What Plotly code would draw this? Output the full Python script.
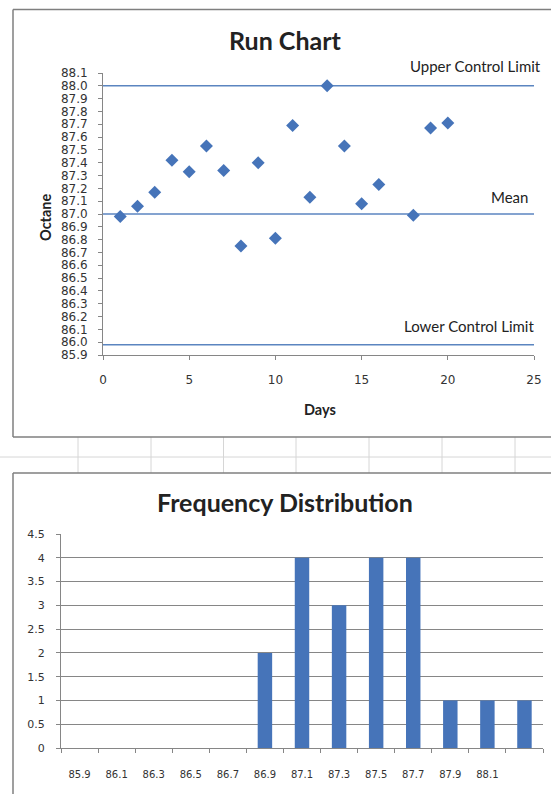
import plotly.graph_objects as go

# ---------------- data ----------------
days = [1, 2, 3, 4, 5, 6, 7, 8, 9, 10, 11, 12, 13, 14, 15, 16, 18, 19, 20]
octane = [86.98, 87.06, 87.17, 87.42, 87.33, 87.53, 87.34, 86.75, 87.40, 86.81,
          87.69, 87.13, 88.00, 87.53, 87.08, 87.23, 86.99, 87.67, 87.71]
ucl = 88.00
mean = 87.00
lcl = 85.98
limit_span = [0, 25]

bins = ["85.9", "86.1", "86.3", "86.5", "86.7", "86.9", "87.1", "87.3",
        "87.5", "87.7", "87.9", "88.1", "More"]
freq = [0, 0, 0, 0, 0, 2, 4, 3, 4, 4, 1, 1, 1]
shown_bin_labels = bins[:12]

# ---------------- page geometry ----------------
W, H = 551, 794
def px(x):
    return x / W
def py(y):
    return 1 - y / H

BLUE = "#4674B9"
LINE_BLUE = "#5B85C0"
AXIS = "#868686"
TXT = "#222222"
CAL = "Lato"

fig = go.Figure()

for val in (ucl, mean, lcl):
    fig.add_trace(go.Scatter(x=limit_span, y=[val, val], mode="lines",
                             line=dict(color=LINE_BLUE, width=1.5),
                             hoverinfo="skip", showlegend=False,
                             xaxis="x", yaxis="y"))

fig.add_trace(go.Scatter(x=days, y=octane, mode="markers",
                         marker=dict(symbol="diamond", size=10, color=BLUE),
                         showlegend=False, xaxis="x", yaxis="y"))

fig.add_trace(go.Bar(x=list(range(len(bins))), y=freq,
                     marker=dict(color=BLUE, line=dict(width=0)),
                     showlegend=False, xaxis="x2", yaxis="y2"))

fig.update_layout(
    template="none",
    width=W, height=H, autosize=False,
    margin=dict(l=0, r=0, t=0, b=0, pad=0, autoexpand=False),
    paper_bgcolor="white", plot_bgcolor="white",
    bargap=0.61,
    xaxis=dict(domain=[px(103), px(534)], range=[0, 25], dtick=5, tick0=0,
               showgrid=False, zeroline=False, showline=True, linecolor=AXIS, linewidth=1,
               ticks="outside", ticklen=4, tickcolor=AXIS, automargin=False,
               tickfont=dict(family="DejaVu Sans", size=12, color="#333333"),
               ticklabelstandoff=10, anchor="y", fixedrange=True),
    yaxis=dict(domain=[py(355), py(73)], range=[85.9, 88.1], dtick=0.1, tick0=85.9,
               tickformat=".1f", showgrid=False, zeroline=False, showline=True,
               linecolor=AXIS, linewidth=1, ticks="outside", ticklen=4, tickcolor=AXIS,
               automargin=False,
               tickfont=dict(family="DejaVu Sans", size=12, color="#333333"),
               ticklabelstandoff=8, anchor="x", fixedrange=True),
    xaxis2=dict(domain=[px(61), px(543)], range=[-0.5, len(bins) - 0.5],
                tickmode="array", tickvals=list(range(len(shown_bin_labels))),
                ticktext=shown_bin_labels, ticks="",
                minor=dict(tickmode="linear", tick0=-0.5, dtick=1, ticks="outside",
                           ticklen=4, tickcolor=AXIS, showgrid=False),
                showgrid=False, zeroline=False, showline=True, linecolor=AXIS, linewidth=1,
                automargin=False,
                tickfont=dict(family="DejaVu Sans", size=10, color="#333333"),
                ticklabelstandoff=17, anchor="y2", fixedrange=True),
    yaxis2=dict(domain=[py(748), py(534)], range=[0, 4.5], dtick=0.5, tick0=0,
                showgrid=True, gridcolor=AXIS, gridwidth=1, zeroline=False,
                showline=True, linecolor=AXIS, linewidth=1, ticks="outside", ticklen=4,
                tickcolor=AXIS, automargin=False,
                tickfont=dict(family="DejaVu Sans", size=11, color="#333333"),
                ticklabelstandoff=9, anchor="x2", fixedrange=True),
)

shapes = []
def hline(y, x0, x1, color, width):
    shapes.append(dict(type="line", xref="paper", yref="paper", x0=px(x0), x1=px(x1),
                       y0=py(y), y1=py(y), line=dict(color=color, width=width)))
def vline(x, y0, y1, color, width):
    shapes.append(dict(type="line", xref="paper", yref="paper", x0=px(x), x1=px(x),
                       y0=py(y0), y1=py(y1), line=dict(color=color, width=width)))

# spreadsheet gridlines between the two charts
GRID = "#D6D6D6"
hline(457, 0, 551, GRID, 1)
for gx in [78, 151, 223.5, 296, 369, 442, 515]:
    vline(gx, 437, 473, GRID, 1)

# chart frames (open on the right / bottom where they leave the page)
FRAME = "#7F7F7F"
hline(9.5, 13, 551, FRAME, 1.5)
hline(437, 13, 551, FRAME, 1.5)
vline(13, 9.5, 437, FRAME, 1.5)
hline(473, 13, 551, FRAME, 1.5)
vline(13, 473, 794, FRAME, 1.5)
fig.update_layout(shapes=shapes)

ann = []
def add_text(text, x, y, size, bold=False, xanchor="center", angle=0, family=CAL):
    ann.append(dict(text=("<b>%s</b>" % text) if bold else text, x=px(x), y=py(y),
                    xref="paper", yref="paper", showarrow=False, xanchor=xanchor,
                    yanchor="middle", textangle=angle,
                    font=dict(family=family, size=size, color=TXT)))

add_text("Run Chart", 285, 40, 25, bold=True)
add_text("Frequency Distribution", 285, 502, 25, bold=True)
add_text("Octane", 45, 217, 14.5, bold=True, angle=-90)
add_text("Days", 320, 409, 14.5, bold=True)
add_text("Upper Control Limit", 543, 66, 15, xanchor="right")
add_text("Mean", 530, 197, 15, xanchor="right")
add_text("Lower Control Limit", 536, 326, 15, xanchor="right")
fig.update_layout(annotations=ann)

fig.write_html(
    "out.html",
    config={"displayModeBar": False},
    post_script="document.body.style.margin='0';"
                "document.body.style.overflow='hidden';"
                "document.documentElement.style.overflow='hidden';",
)
